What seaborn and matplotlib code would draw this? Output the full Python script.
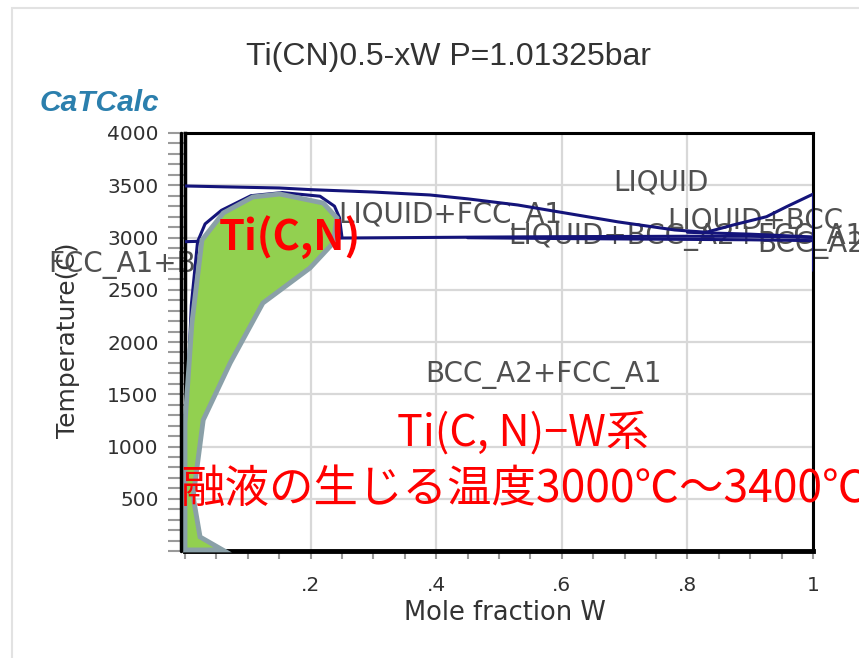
import matplotlib
matplotlib.use("Agg")
import matplotlib.pyplot as plt
import matplotlib.transforms as mtransforms
from matplotlib.lines import Line2D
from matplotlib.patches import Rectangle
from matplotlib.ticker import MultipleLocator
import seaborn as sns

# ---------------- data ----------------
# liquidus of the upper (LIQUID) region, W mole fraction vs temperature (C)
liq_x = [0.0, 0.10, 0.15, 0.20, 0.30, 0.39, 0.45, 0.53, 0.60, 0.69, 0.78, 0.83]
liq_y = [3493, 3480, 3474, 3458, 3435, 3407, 3370, 3311, 3240, 3149, 3072, 3050]
# LIQUID / LIQUID+BCC boundary rising to pure W
liqbcc_x = [0.83, 0.873, 0.926, 0.958, 1.0]
liqbcc_y = [3050, 3120, 3199, 3295, 3415]
# three-phase band lines near 3000 C
band1_x = [0.0, 0.10, 0.25, 0.45, 0.60, 0.80, 0.90, 1.0]
band1_y = [2960, 2975, 2995, 3003, 3008, 3012, 3012, 3000]
band2_x = [0.45, 0.60, 0.80, 0.90, 1.0]
band2_y = [2998, 2990, 2982, 2978, 2970]
# lower boundary of LIQUID+BCC_A2
lbcc_x = [0.80, 0.90, 1.0]
lbcc_y = [3050, 3032, 3005]
# vertical line at pure W
w_x = [1.0, 1.0]
w_y = [3415, 2690]
# FCC_A1 boundary (mostly hidden under the Ti(C,N) marker)
fcc_x = [0.0, 0.004, 0.010, 0.020, 0.032, 0.058, 0.105, 0.155, 0.215, 0.238, 0.246, 0.25]
fcc_y = [150, 1500, 2350, 2960, 3130, 3260, 3400, 3430, 3395, 3300, 3190, 3000]
# hand-drawn Ti(C,N) marker polygon
poly_x = [0.0, 0.060, 0.024, 0.013, 0.029, 0.072, 0.124, 0.199, 0.236, 0.242,
          0.220, 0.151, 0.108, 0.061, 0.027, 0.011, 0.0]
poly_y = [10, 10, 134, 517, 1254, 1800, 2373, 2708, 2947, 3187,
          3330, 3416, 3388, 3235, 2976, 2182, 1225]

x_ticks = [0.0, 0.2, 0.4, 0.6, 0.8, 1.0]
x_ticklabels = ["", ".2", ".4", ".6", ".8", "1"]
y_ticks = [0, 500, 1000, 1500, 2000, 2500, 3000, 3500, 4000]
y_ticklabels = ["", "500", "1000", "1500", "2000", "2500", "3000", "3500", "4000"]

# ---------------- styling ----------------
sns.set_theme(style="white")
plt.rcParams["font.family"] = ["DejaVu Sans", "Noto Sans CJK JP"]

NAVY = "#14147a"
GRAYTXT = "#505050"
RED = "#ff0000"
CJK = ["Noto Sans CJK JP", "DejaVu Sans"]

W, H = 859, 658
fig = plt.figure(figsize=(W / 100, H / 100), dpi=100)
fig.patch.set_facecolor("white")
ax = fig.add_axes([185 / W, 1 - 551 / H, 628 / W, 418 / H])
ax.set_facecolor("white")

# outer light frame of the screenshot
fig.patches.append(Rectangle((12 / W, -0.1), 1.2, 1 - 8 / H + 0.1, transform=fig.transFigure,
                             fill=False, edgecolor="#e2e2e2", lw=1.5))

# grid
ax.set_xlim(0, 1)
ax.set_ylim(0, 4000)
ax.set_xticks(x_ticks)
ax.set_xticklabels(x_ticklabels)
ax.set_yticks(y_ticks)
ax.set_yticklabels(y_ticklabels)
ax.xaxis.set_minor_locator(MultipleLocator(0.05))
ax.yaxis.set_minor_locator(MultipleLocator(100))
ax.grid(True, which="major", color="#d8d8d8", lw=1.6, zorder=0)
ax.set_axisbelow(True)

ax.tick_params(axis="both", which="both", direction="out", color="#9a9a9a", width=1.5,
               labelcolor="#303030", labelsize=14.5)
ax.tick_params(axis="y", which="both", length=12, pad=7, left=True)
ax.tick_params(axis="x", which="both", length=6, pad=12, bottom=True)

for s in ax.spines.values():
    s.set_color("black")
    s.set_linewidth(2.2)
ax.spines["bottom"].set_linewidth(3.5)
ax.spines["left"].set_linewidth(2.5)
# doubled left frame line
off = mtransforms.ScaledTranslation(-4.5 / 100, 0, fig.dpi_scale_trans)
ax.add_line(Line2D([0, 0], [0, 1], transform=ax.transAxes + off, color="black",
                   lw=2.5, clip_on=False, zorder=5))

# phase boundary lines
for xs, ys in [(liq_x, liq_y), (liqbcc_x, liqbcc_y), (band1_x, band1_y),
               (band2_x, band2_y), (lbcc_x, lbcc_y), (w_x, w_y), (fcc_x, fcc_y)]:
    sns.lineplot(x=xs, y=ys, ax=ax, color=NAVY, lw=2.2, sort=False,
                 estimator=None, zorder=3, legend=False)

# region labels
lab = dict(color=GRAYTXT, fontsize=20, va="center", ha="left", zorder=2, clip_on=False)
ax.text(0.682, 3531, "LIQUID", **lab)
ax.text(0.244, 3206, "LIQUID+FCC_A1", **lab)
ax.text(0.514, 3005, "LIQUID+BCC_A2+FCC_A1", **lab)
ax.text(0.768, 3167, "LIQUID+BCC", **lab)
ax.text(0.911, 2928, "BCC_A2", **lab)
ax.text(-0.218, 2737, "FCC_A1+BCC_A2", **lab)
ax.text(0.382, 1684, "BCC_A2+FCC_A1", **lab)

# Ti(C,N) marker
ax.fill(poly_x, poly_y, facecolor="#92d050", edgecolor="#8aa0a8", lw=3.5, zorder=4,
        clip_on=False)

# red annotations
ax.text(0.167, 3005, "Ti(C,N)", color=RED, fontsize=30, fontweight="bold",
        family=CJK, ha="center", va="center", zorder=6)
ax.text(0.538, 1120, "Ti(C, N)−W系", color=RED, fontsize=31, family=CJK,
        ha="center", va="center", zorder=6)
ax.text(-0.008, 593, "融液の生じる温度3000℃～3400℃", color=RED, fontsize=32,
        family=CJK, ha="left", va="center", zorder=6, clip_on=False)

# axis labels
ax.set_xlabel("Mole fraction W", fontsize=18.5, color="#333333")
ax.set_ylabel("Temperature(C)", fontsize=18, color="#333333")
ax.xaxis.set_label_coords((505 - 185) / 628, -(600 - 551) / 418)
ax.yaxis.set_label_coords((80 - 185) / 628, (551 - 340) / 418)

# title and logo
fig.text(449 / W, 1 - 57 / H, "Ti(CN)0.5-xW P=1.01325bar", family=["Liberation Sans", "DejaVu Sans"],
         fontsize=23, color="#333333", ha="center", va="center")
fig.text(40 / W, 1 - 103 / H, "CaTCalc", family=["Liberation Sans", "DejaVu Sans"],
         fontsize=21.5, fontweight="bold", fontstyle="italic", color="#2b7fad",
         ha="left", va="center")

fig.savefig("out.png", dpi=100, facecolor="white")
